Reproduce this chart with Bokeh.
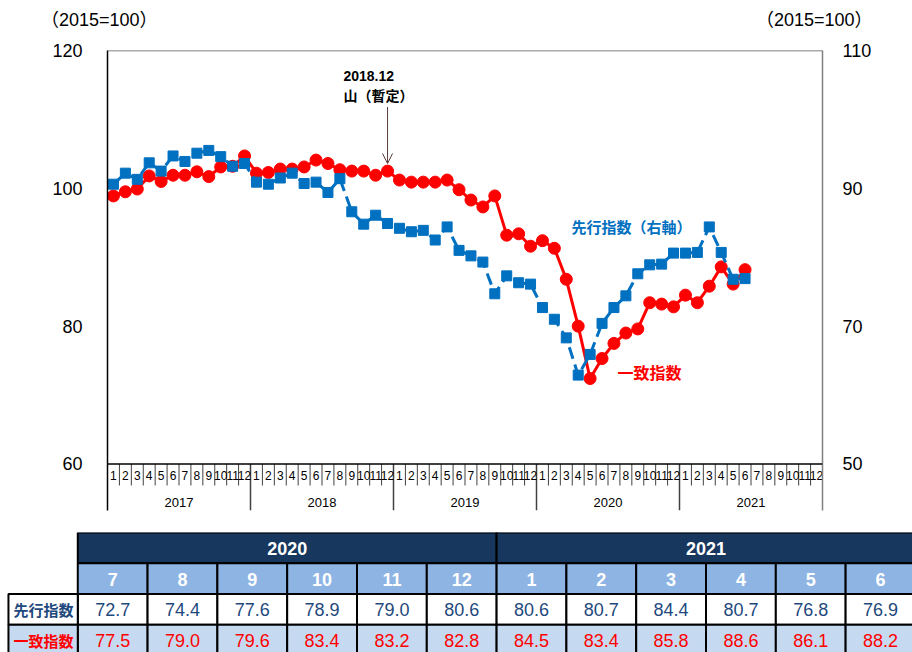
import numpy as np
from bokeh.plotting import figure
from bokeh.models import (Range1d, LinearAxis, FixedTicker, Span, Label, Arrow,
                          OpenHead, Div)
from bokeh.layouts import column
from bokeh.embed import file_html
from bokeh.resources import INLINE
from bokeh.core.properties import value

# ---------------- data ----------------
years = ["2017", "2018", "2019", "2020", "2021"]
months = ["1", "2", "3", "4", "5", "6", "7", "8", "9", "10", "11", "12"]

# coincident index (left axis), 2017.1 - 2020.6
coin_hist = [98.9, 99.5, 99.9, 101.8, 101.0, 101.9, 101.9, 102.4, 101.7, 103.1, 103.2, 104.7,
             102.2, 102.3, 102.8, 102.8, 103.1, 104.1, 103.6, 102.7, 102.5, 102.5, 101.9, 102.5,
             101.2, 100.9, 100.9, 100.9, 101.2, 99.8, 98.3, 97.3, 98.9, 93.2, 93.4, 91.6,
             92.4, 91.3, 86.8, 80.0, 72.4, 75.3]
# leading index (right axis), 2017.1 - 2020.6
lead_hist = [90.6, 92.2, 91.3, 93.7, 92.5, 94.7, 93.9, 95.1, 95.5, 94.6, 93.2, 93.6,
             90.9, 90.6, 91.5, 92.2, 90.7, 90.9, 89.4, 91.4, 86.6, 84.8, 86.1, 84.9,
             84.2, 83.7, 83.9, 82.5, 84.4, 81.0, 80.2, 79.3, 74.7, 77.3, 76.3, 76.1,
             72.7, 71.0, 68.3, 62.9, 65.9, 70.4]

# table: 2020.7 - 2021.6
tbl_years = ["2020", "2021"]
tbl_months = ["7", "8", "9", "10", "11", "12", "1", "2", "3", "4", "5", "6"]
tbl_lead = [72.7, 74.4, 77.6, 78.9, 79.0, 80.6, 80.6, 80.7, 84.4, 80.7, 76.8, 76.9]
tbl_coin = [77.5, 79.0, 79.6, 83.4, 83.2, 82.8, 84.5, 83.4, 85.8, 88.6, 86.1, 88.2]
row_labels = ["先行指数", "一致指数"]

left_ticks = [60, 80, 100, 120]
right_ticks = [50, 70, 90, 110]
unit_label = "（2015=100）"

coin = coin_hist + tbl_coin
lead = lead_hist + tbl_lead
x = np.arange(len(coin)) + 0.5
n_months = len(years) * len(months)

RED = "#FF0000"
BLUE = "#0070C0"
JP = "Noto Sans CJK JP"
LAT = "Liberation Sans"

# ---------------- unit labels (top strip) ----------------
span_css = ("position:absolute;top:9px;line-height:22px;white-space:nowrap;"
            "font-family:'Liberation Sans','Noto Sans CJK JP';font-size:18px;color:black;")
top = Div(text=(f'<div style="position:relative;width:912px;height:30px;">'
                f'<span style="{span_css}left:41px;">{unit_label}</span>'
                f'<span style="{span_css}left:756px;">{unit_label}</span></div>'),
          width=912, height=30, margin=0)

# ---------------- chart ----------------
p = figure(width=912, height=502, x_range=Range1d(0, n_months), y_range=Range1d(53.25, 120),
           output_backend="svg", toolbar_location=None,
           x_axis_location=None, y_axis_location=None,
           min_border_left=107, min_border_right=90, min_border_top=20, min_border_bottom=22)
p.frame_align = False
p.outline_line_color = None
p.grid.visible = False
p.background_fill_color = "white"
p.border_fill_color = "white"

yl = LinearAxis(ticker=FixedTicker(ticks=left_ticks), major_tick_in=0, major_tick_out=0,
                minor_tick_in=0, minor_tick_out=0, major_label_standoff=25,
                axis_line_color="black", axis_line_width=1.5,
                major_label_text_font_size="18px", major_label_text_font=LAT,
                major_label_text_color="black")
p.add_layout(yl, "left")

p.extra_y_ranges = {"r": Range1d(43.25, 110)}
yr = LinearAxis(y_range_name="r", ticker=FixedTicker(ticks=right_ticks), major_tick_in=0,
                major_tick_out=0, minor_tick_in=0, minor_tick_out=0, major_label_standoff=20,
                axis_line_color="#7f7f7f", axis_line_width=1.5,
                major_label_text_font_size="18px", major_label_text_font=LAT,
                major_label_text_color="black")
p.add_layout(yr, "right")

p.add_layout(Span(location=120, dimension="width", line_color="#595959", line_width=1.5))
p.add_layout(Span(location=60, dimension="width", line_color="black", line_width=1.5))

# category axis drawn by hand
sep_month = [i for i in range(1, n_months) if i % len(months) != 0]
sep_year = [i for i in range(len(months), n_months, len(months))]
p.segment(x0=sep_month, x1=sep_month, y0=60, y1=56.88, line_color="#404040", line_width=1)
p.segment(x0=sep_year, x1=sep_year, y0=60, y1=53.25, line_color="#404040", line_width=1.5)
p.text(x=np.arange(n_months) + 0.5, y=58.33, text=months * len(years),
       text_align="center", text_baseline="middle", text_font=value(LAT),
       text_font_size="12px", text_color="black")
p.text(x=np.arange(len(years)) * len(months) + len(months) / 2, y=54.42, text=years,
       text_align="center", text_baseline="middle", text_font=value(LAT),
       text_font_size="13px", text_color="black")

# series
p.line(x, coin, line_color=RED, line_width=3)
p.scatter(x, coin, marker="circle", size=12, fill_color=RED, line_color=RED)
p.line(x, lead, y_range_name="r", line_color=BLUE, line_width=3, line_dash="12 6")
p.scatter(x, lead, y_range_name="r", marker="square", size=10, fill_color=BLUE, line_color=BLUE)

# texts
p.add_layout(Label(x=19.8, y=116.37, text="2018.12", text_font=LAT, text_font_style="bold",
                   text_font_size="14px", text_baseline="middle", text_color="black"))
p.add_layout(Label(x=19.8, y=113.5, text="山（暫定）", text_font=JP, text_font_style="bold",
                   text_font_size="14px", text_baseline="middle", text_color="black"))
p.add_layout(Arrow(end=OpenHead(size=10, line_color="#5B3A3A", line_width=1),
                   x_start=23.5, y_start=111.8, x_end=23.5, y_end=103.6,
                   line_color="#5B3A3A", line_width=1))
p.add_layout(Label(x=38.93, y=94.39, text="先行指数（右軸）", text_font=JP, text_font_style="bold",
                   text_font_size="15px", text_baseline="middle", text_color=BLUE))
p.add_layout(Label(x=42.79, y=73.35, text="一致指数", text_font=JP, text_font_style="bold",
                   text_font_size="16px", text_baseline="middle", text_color=RED))

# ---------------- table ----------------
ncol = len(tbl_months)
t = figure(width=912, height=120, x_range=Range1d(-1.107, 11.958), y_range=Range1d(3.902, 0),
           output_backend="svg", toolbar_location=None,
           x_axis_location=None, y_axis_location=None,
           min_border_left=0, min_border_right=0, min_border_top=0, min_border_bottom=0)
t.frame_align = False
t.outline_line_color = None
t.grid.visible = False

per = ncol // len(tbl_years)
yl_left = [i * per for i in range(len(tbl_years))]
t.quad(left=yl_left, right=[v + per for v in yl_left], top=0, bottom=1,
       fill_color="#17375E", line_color="black", line_width=2)
t.text(x=[v + per / 2 for v in yl_left], y=0.52, text=tbl_years, text_align="center",
       text_baseline="middle", text_font=value(LAT), text_font_style="bold",
       text_font_size="18px", text_color="white")

cols = np.arange(ncol)
t.quad(left=cols, right=cols + 1, top=1, bottom=2, fill_color="#8DB4E2",
       line_color="black", line_width=2)
t.text(x=cols + 0.5, y=1.52, text=tbl_months, text_align="center", text_baseline="middle",
       text_font=value(LAT), text_font_style="bold", text_font_size="18px",
       text_color="white")

t.quad(left=cols, right=cols + 1, top=2, bottom=3, fill_color="white",
       line_color="black", line_width=2)
t.text(x=cols + 0.5, y=2.52, text=[f"{v:.1f}" for v in tbl_lead], text_align="center",
       text_baseline="middle", text_font=value(LAT), text_font_size="18px",
       text_color="#1F497D")

t.quad(left=cols, right=cols + 1, top=3, bottom=4, fill_color="#C5D9F1",
       line_color="black", line_width=2)
t.text(x=cols + 0.5, y=3.5, text=[f"{v:.1f}" for v in tbl_coin], text_align="center",
       text_baseline="middle", text_font=value(LAT), text_font_size="18px",
       text_color=RED)

t.quad(left=[-0.993, -0.993], right=[0, 0], top=[2, 3], bottom=[3, 4],
       fill_color=["white", "#C5D9F1"], line_color="black", line_width=2)
t.text(x=[-0.49, -0.49], y=[2.52, 3.5], text=row_labels, text_align="center",
       text_baseline="middle", text_font=value(JP), text_font_style="bold",
       text_font_size="15px", text_color=["#1F497D", RED])

layout = column(top, p, t, spacing=0)
open("out.html", "w").write(file_html(layout, INLINE))
